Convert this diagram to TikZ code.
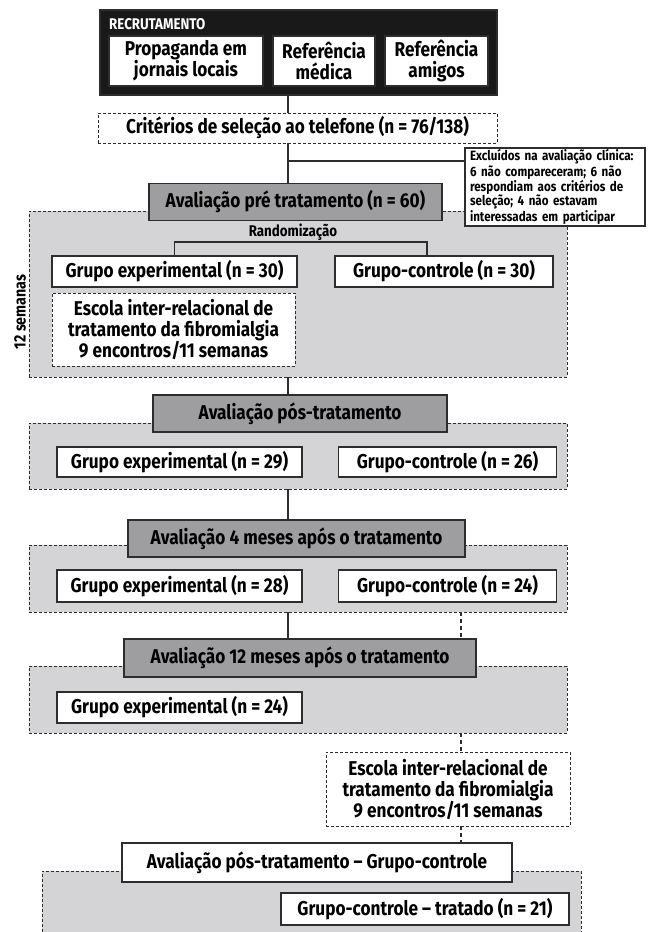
\documentclass[tikz,border=0pt]{standalone}
\usepackage{fontspec}
\setmainfont{Fira Sans}[FakeStretch=0.86]
\definecolor{headgray}{RGB}{158,158,160}
\definecolor{areagray}{RGB}{212,212,214}
\definecolor{inkgray}{RGB}{45,45,45}
\tikzset{
  box/.style={draw=inkgray, line width=1.1pt, fill=white, align=center, inner sep=0pt,
    font=\bfseries\fontsize{20}{21}\selectfont},
  headbox/.style={box, fill=headgray},
  dashbox/.style={box, line width=0.8pt, dash pattern=on 3pt off 2pt},
  area/.style={draw=inkgray, fill=areagray, line width=0.8pt, dash pattern=on 3pt off 2pt, inner sep=0pt},
  link/.style={draw=inkgray, line width=1.1pt},
  dlink/.style={link, dash pattern=on 4pt off 3pt},
  small/.style={font=\bfseries\fontsize{15.5}{16}\selectfont, inner sep=0pt}
}
\begin{document}
\begin{tikzpicture}[x=1pt, y=-1pt]
	\useasboundingbox (0,0) rectangle (648,932);
	\coordinate (trunk) at (288,0);
	\coordinate (side) at (461,0);
	% recruitment
	\node [box, fill=black!90, minimum width=397, minimum height=85] (recr) at (298.5,52.5) {};
	\node [small, anchor=west, text=white] (rectit) at (109,24) {RECRUTAMENTO};
	\node [box, minimum width=154, minimum height=50] (prop) at (186,61) {Propaganda em\\jornais locais};
	\node [box, minimum width=102, minimum height=50] (medic) at (324,61) {Referência\\médica};
	\node [box, minimum width=103, minimum height=50] (amig) at (436.5,61) {Referência\\amigos};
	\node [dashbox, minimum width=399, minimum height=30] (crit) at (297.5,128) {Critérios de seleção ao telefone (n = 76/138)};
	\draw [link] (recr.south -| trunk) -- (crit.north -| trunk);
	% areas
	\node [area, minimum width=538, minimum height=166] (area1) at (298,294) {};
	\node [area, minimum width=538, minimum height=66] (area2) at (298,456) {};
	\node [area, minimum width=538, minimum height=67] (area3) at (298,578.5) {};
	\node [area, minimum width=538, minimum height=67] (area4) at (298,699.5) {};
	\fill [areagray] (42,871) rectangle (581,932);
	\draw [area, fill=none] (42,932) |- (581,871) -- (581,932);
	% pre treatment
	\node [headbox, minimum width=293, minimum height=37] (pre) at (295.5,202) {Avaliação pré tratamento (n = 60)};
	\draw [link] (crit.south -| trunk) -- (pre.north -| trunk);
	\node [box, align=left, text width=170, minimum height=78, minimum width=180,
		font=\bfseries\fontsize{13.5}{13.3}\selectfont] (excl) at (555,187)
		{Excluídos na avaliação clínica:\\6 não compareceram; 6 não\\respondiam aos critérios de\\seleção; 4 não estavam\\interessadas em participar};
	\coordinate (brk) at (288,161);
	\draw [link] (brk) -- (brk -| excl.west);
	\node [small] (rnd) at (293,232) {Randomização};
	\node [box, minimum width=245, minimum height=31] (gexp30) at (174.5,271.5) {Grupo experimental (n = 30)};
	\node [box, minimum width=218, minimum height=31] (gctl30) at (444,271.5) {Grupo-controle (n = 30)};
	\coordinate (rndbar) at (300,242);
	\draw [link] (gexp30.north) |- (rndbar) -| ([xshift=-17pt]gctl30.north);
	\node [dashbox, minimum width=243, minimum height=73] (school1) at (173.5,329.5) {Escola inter-relacional de\\tratamento da fibromialgia\\9 encontros/11 semanas};
	\node [small, rotate=90, font=\bfseries\fontsize{16.5}{17}\selectfont] (weeks) at (20,312) {12 semanas};
	% post treatment
	\node [headbox, minimum width=294, minimum height=37] (post) at (300,413.5) {Avaliação pós-tratamento};
	\draw [link] (area1.south -| trunk) -- (post.north -| trunk);
	\node [box, minimum width=245, minimum height=30] (gexp29) at (179.5,462) {Grupo experimental (n = 29)};
	\node [box, minimum width=218, minimum height=30] (gctl26) at (447.5,462) {Grupo-controle (n = 26)};
	% 4 months
	\node [headbox, minimum width=337, minimum height=37] (mon4) at (296.5,538.5) {Avaliação 4 meses após o tratamento};
	\draw [link] (area2.south -| trunk) -- (mon4.north -| trunk);
	\node [box, minimum width=245, minimum height=32] (gexp28) at (179.5,586) {Grupo experimental (n = 28)};
	\node [box, minimum width=218, minimum height=32] (gctl24) at (447.5,586) {Grupo-controle (n = 24)};
	% 12 months
	\node [headbox, minimum width=352, minimum height=38] (mon12) at (300,658) {Avaliação 12 meses após o tratamento};
	\draw [link] (area3.south -| trunk) -- (mon12.north -| trunk);
	\draw [dlink] (area3.south -| side) -- (mon12.north -| side);
	\node [box, minimum width=245, minimum height=31] (gexp24) at (179.5,707.5) {Grupo experimental (n = 24)};
	% control group treated
	\node [dashbox, minimum width=244, minimum height=74] (school2) at (448,789) {Escola inter-relacional de\\tratamento da fibromialgia\\9 encontros/11 semanas};
	\draw [dlink] (area4.south -| side) -- (school2.north -| side);
	\node [box, minimum width=390, minimum height=39] (ctlpost) at (317,862.5) {Avaliação pós-tratamento – Grupo-controle};
	\draw [dlink] (school2.south -| side) -- (ctlpost.north -| side);
	\node [box, minimum width=288, minimum height=32] (ctltreat) at (425,909) {Grupo-controle – tratado (n = 21)};
\end{tikzpicture}
\end{document}
